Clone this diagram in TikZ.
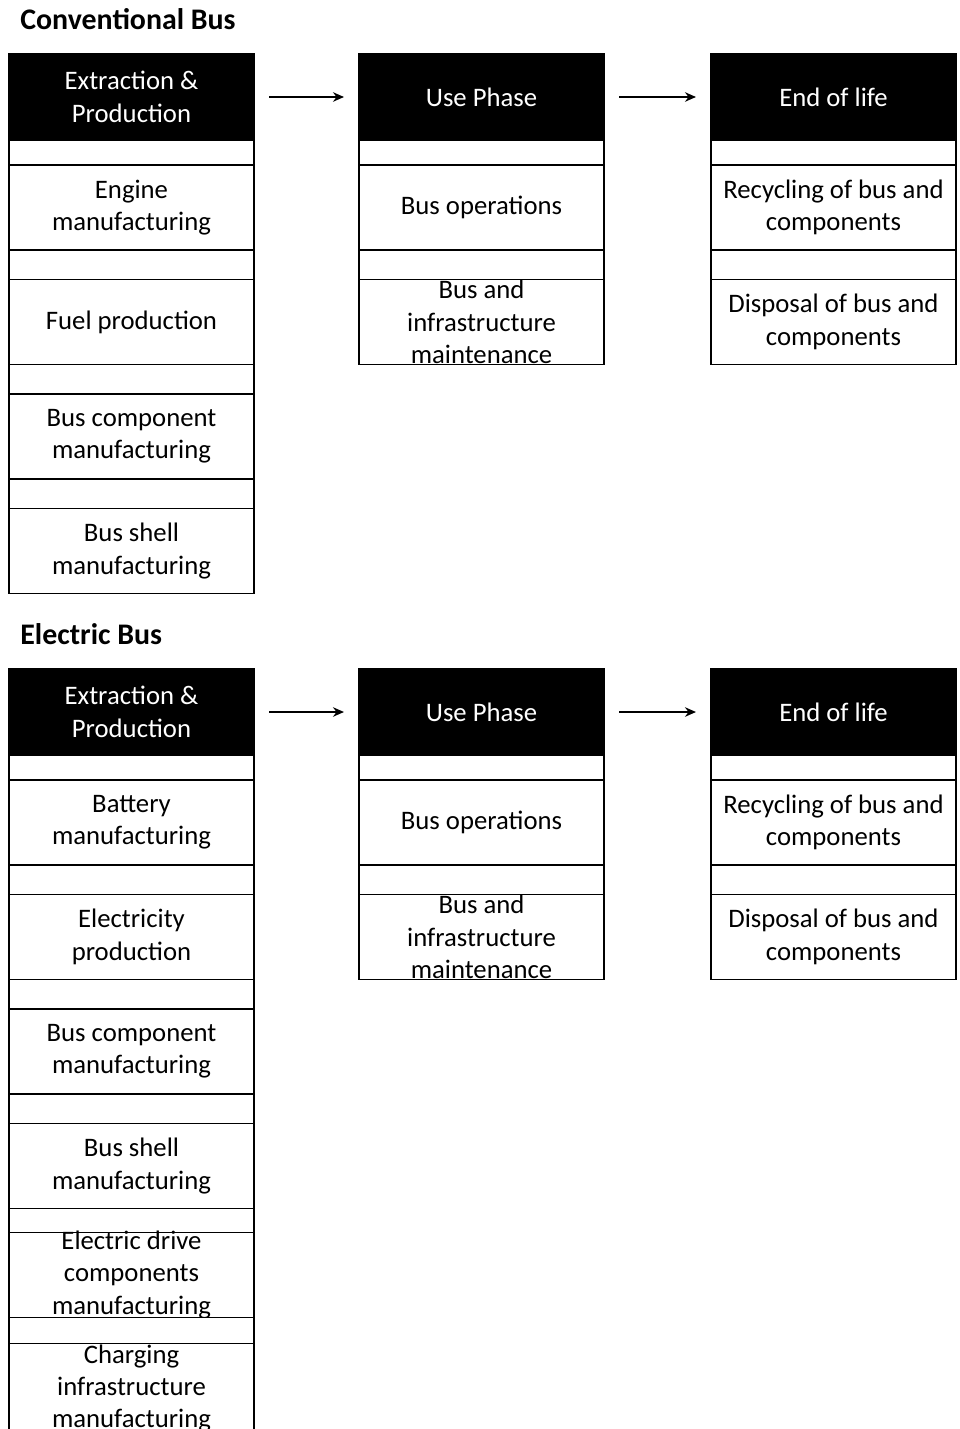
\documentclass[tikz,border=0pt]{standalone}
\usepackage{fontspec}
\setmainfont{Carlito}
\usepackage{tikz}
\usetikzlibrary{positioning, arrows.meta}

\newcommand{\cellfont}{\fontsize{15.2}{18.4}\selectfont}
\newcommand{\busfont}{\fontsize{17}{20}\selectfont\bfseries}

\begin{document}
\begin{tikzpicture}[
    head/.style={rectangle, draw=black, fill=black, text=white, line width=0.8pt,
                 minimum width=4.9cm, minimum height=1.72cm, inner ysep=-3pt,
                 outer sep=0pt, align=center, font=\cellfont},
    cell/.style={rectangle, draw=black, fill=white, line width=0.8pt,
                 minimum width=4.9cm, minimum height=1.7cm, inner ysep=-3pt,
                 outer sep=0pt, align=center, font=\cellfont},
    spacer/.style={rectangle, draw=black, fill=white, line width=0.8pt,
                   minimum width=4.9cm, minimum height=#1, inner sep=0pt, outer sep=0pt},
    spacer/.default=0.59cm,
    bustitle/.style={anchor=west, inner sep=0pt, font=\busfont},
    arrow/.style={-{Stealth[length=2.2mm, width=1.9mm]}, line width=1.4pt,
                  shorten <=0.3cm, shorten >=0.3cm}]

    % Page
    \clip (0, 0) rectangle (19.2, -28.58);

    % Conventional bus
    \node[bustitle] (conv-title) at (0.4, -0.38) {Conventional Bus};

    \node[head, anchor=north west] (conv-ep) at (0.18, -1.08) {Extraction \&\\Production};
    \node[spacer=0.5cm, below=0pt of conv-ep] (conv-ep-s) {};
    \node[cell, below=0pt of conv-ep-s] (conv-engine) {Engine\\manufacturing};
    \node[spacer, below=0pt of conv-engine] (conv-engine-s) {};
    \node[cell, below=0pt of conv-engine-s] (conv-fuel) {Fuel production};
    \node[spacer, below=0pt of conv-fuel] (conv-fuel-s) {};
    \node[cell, below=0pt of conv-fuel-s] (conv-comp) {Bus component\\manufacturing};
    \node[spacer, below=0pt of conv-comp] (conv-comp-s) {};
    \node[cell, below=0pt of conv-comp-s] (conv-shell) {Bus shell\\manufacturing};

    \node[head, anchor=north west] (conv-use) at (7.18, -1.08) {Use Phase};
    \node[spacer=0.5cm, below=0pt of conv-use] (conv-use-s) {};
    \node[cell, below=0pt of conv-use-s] (conv-ops) {Bus operations};
    \node[spacer, below=0pt of conv-ops] (conv-ops-s) {};
    \node[cell, below=0pt of conv-ops-s] (conv-maint) {Bus and\\infrastructure\\maintenance};

    \node[head, anchor=north west] (conv-eol) at (14.22, -1.08) {End of life};
    \node[spacer=0.5cm, below=0pt of conv-eol] (conv-eol-s) {};
    \node[cell, below=0pt of conv-eol-s] (conv-recycle) {Recycling of bus and\\components};
    \node[spacer, below=0pt of conv-recycle] (conv-recycle-s) {};
    \node[cell, below=0pt of conv-recycle-s] (conv-dispose) {Disposal of bus and\\components};

    \draw[arrow] (conv-ep) -- (conv-use);
    \draw[arrow] (conv-use) -- (conv-eol);

    % Electric bus
    \node[bustitle] (elec-title) at (0.4, -12.68) {Electric Bus};

    \node[head, anchor=north west] (elec-ep) at (0.18, -13.38) {Extraction \&\\Production};
    \node[spacer=0.5cm, below=0pt of elec-ep] (elec-ep-s) {};
    \node[cell, below=0pt of elec-ep-s] (elec-battery) {Battery\\manufacturing};
    \node[spacer, below=0pt of elec-battery] (elec-battery-s) {};
    \node[cell, below=0pt of elec-battery-s] (elec-power) {Electricity\\production};
    \node[spacer, below=0pt of elec-power] (elec-power-s) {};
    \node[cell, below=0pt of elec-power-s] (elec-comp) {Bus component\\manufacturing};
    \node[spacer, below=0pt of elec-comp] (elec-comp-s) {};
    \node[cell, below=0pt of elec-comp-s] (elec-shell) {Bus shell\\manufacturing};
    \node[spacer=0.48cm, below=0pt of elec-shell] (elec-shell-s) {};
    \node[cell, below=0pt of elec-shell-s] (elec-drive) {Electric drive\\components\\manufacturing};
    \node[spacer=0.52cm, below=0pt of elec-drive] (elec-drive-s) {};
    \node[cell, minimum height=1.8cm, below=0pt of elec-drive-s] (elec-charge) {Charging\\infrastructure\\manufacturing};

    \node[head, anchor=north west] (elec-use) at (7.18, -13.38) {Use Phase};
    \node[spacer=0.5cm, below=0pt of elec-use] (elec-use-s) {};
    \node[cell, below=0pt of elec-use-s] (elec-ops) {Bus operations};
    \node[spacer, below=0pt of elec-ops] (elec-ops-s) {};
    \node[cell, below=0pt of elec-ops-s] (elec-maint) {Bus and\\infrastructure\\maintenance};

    \node[head, anchor=north west] (elec-eol) at (14.22, -13.38) {End of life};
    \node[spacer=0.5cm, below=0pt of elec-eol] (elec-eol-s) {};
    \node[cell, below=0pt of elec-eol-s] (elec-recycle) {Recycling of bus and\\components};
    \node[spacer, below=0pt of elec-recycle] (elec-recycle-s) {};
    \node[cell, below=0pt of elec-recycle-s] (elec-dispose) {Disposal of bus and\\components};

    \draw[arrow] (elec-ep) -- (elec-use);
    \draw[arrow] (elec-use) -- (elec-eol);

\end{tikzpicture}
\end{document}
